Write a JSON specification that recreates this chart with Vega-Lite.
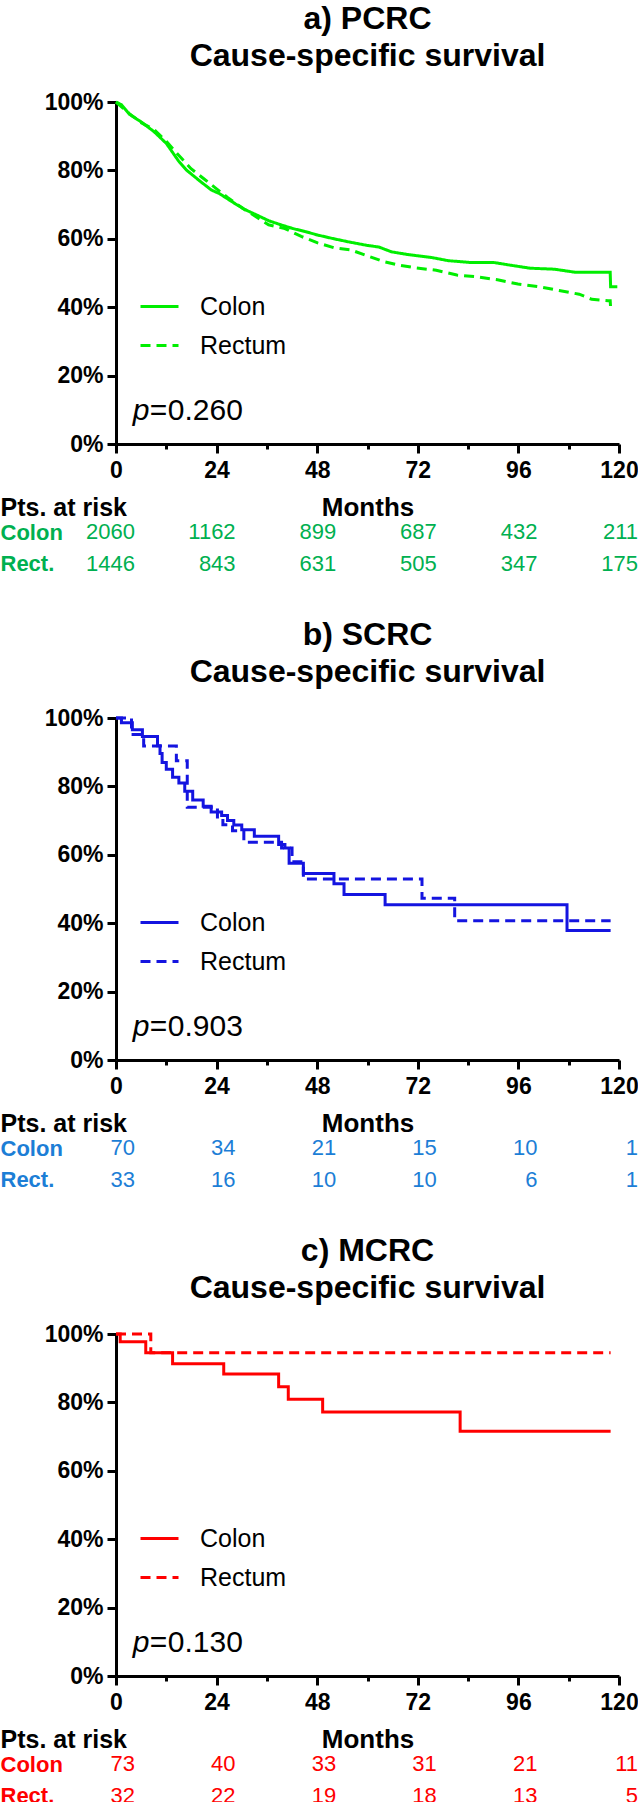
{
  "$schema": "https://vega.github.io/schema/vega-lite/v6.json",
  "padding": {"left": 0, "right": 0, "top": 3, "bottom": 0},
  "spacing": 43,
  "resolve": {"scale": {"strokeDash": "independent"}, "legend": {"strokeDash": "independent"}},
  "config": {
    "font": "Liberation Sans",
    "view": {"stroke": null},
    "axis": {"grid": false, "domainColor": "black", "domainWidth": 3, "tickColor": "black", "tickWidth": 3, "labelColor": "black", "labelFont": "Liberation Sans", "labelFontWeight": "bold", "labelFontSize": 23, "titleFont": "Liberation Sans", "titleFontWeight": "bold", "titleColor": "black"},
    "title": {"font": "Liberation Sans", "fontSize": 32, "fontWeight": "bold", "color": "black", "anchor": "middle", "lineHeight": 37, "offset": 18},
    "legend": {"orient": "none", "legendX": 23, "legendY": 184, "title": null, "labelFont": "Liberation Sans", "labelFontSize": 25, "labelFontWeight": "normal", "labelColor": "black", "symbolType": "stroke", "symbolSize": 1444, "symbolStrokeWidth": 3, "labelOffset": 20, "rowPadding": 5, "padding": 0}
  },
  "datasets": {
    "survA": [
      {"group": "Colon", "month": 0, "surv": 1.0}, {"group": "Colon", "month": 1.3, "surv": 0.992}, {"group": "Colon", "month": 3.2, "surv": 0.964}, {"group": "Colon", "month": 6.1, "surv": 0.941}, {"group": "Colon", "month": 9.1, "surv": 0.913}, {"group": "Colon", "month": 12.0, "surv": 0.879}, {"group": "Colon", "month": 14.9, "surv": 0.828}, {"group": "Colon", "month": 16.9, "surv": 0.8}, {"group": "Colon", "month": 19.8, "surv": 0.771}, {"group": "Colon", "month": 22.7, "surv": 0.743}, {"group": "Colon", "month": 24.7, "surv": 0.732}, {"group": "Colon", "month": 27.6, "surv": 0.709}, {"group": "Colon", "month": 30.5, "surv": 0.687}, {"group": "Colon", "month": 33.5, "surv": 0.67}, {"group": "Colon", "month": 36.4, "surv": 0.653}, {"group": "Colon", "month": 39.3, "surv": 0.641}, {"group": "Colon", "month": 42.2, "surv": 0.63}, {"group": "Colon", "month": 45.2, "surv": 0.621}, {"group": "Colon", "month": 48.1, "surv": 0.611}, {"group": "Colon", "month": 52.0, "surv": 0.6}, {"group": "Colon", "month": 55.9, "surv": 0.59}, {"group": "Colon", "month": 59.8, "surv": 0.581}, {"group": "Colon", "month": 62.7, "surv": 0.576}, {"group": "Colon", "month": 65.7, "surv": 0.562}, {"group": "Colon", "month": 69.6, "surv": 0.554}, {"group": "Colon", "month": 75.4, "surv": 0.545}, {"group": "Colon", "month": 79.3, "surv": 0.536}, {"group": "Colon", "month": 84.2, "surv": 0.531}, {"group": "Colon", "month": 90.0, "surv": 0.531}, {"group": "Colon", "month": 94.0, "surv": 0.523}, {"group": "Colon", "month": 98.8, "surv": 0.514}, {"group": "Colon", "month": 104.7, "surv": 0.511}, {"group": "Colon", "month": 109.6, "surv": 0.502}, {"group": "Colon", "month": 117.9, "surv": 0.502}, {"group": "Colon", "month": 118.0, "surv": 0.46}, {"group": "Colon", "month": 119.6, "surv": 0.46},
      {"group": "Rectum", "month": 0, "surv": 1.0}, {"group": "Rectum", "month": 3.2, "surv": 0.966}, {"group": "Rectum", "month": 6.1, "surv": 0.939}, {"group": "Rectum", "month": 9.1, "surv": 0.919}, {"group": "Rectum", "month": 12.0, "surv": 0.885}, {"group": "Rectum", "month": 14.9, "surv": 0.845}, {"group": "Rectum", "month": 17.9, "surv": 0.805}, {"group": "Rectum", "month": 20.8, "surv": 0.777}, {"group": "Rectum", "month": 23.7, "surv": 0.749}, {"group": "Rectum", "month": 26.6, "surv": 0.721}, {"group": "Rectum", "month": 30.5, "surv": 0.687}, {"group": "Rectum", "month": 33.5, "surv": 0.664}, {"group": "Rectum", "month": 36.4, "surv": 0.641}, {"group": "Rectum", "month": 40.3, "surv": 0.63}, {"group": "Rectum", "month": 44.2, "surv": 0.607}, {"group": "Rectum", "month": 48.1, "surv": 0.588}, {"group": "Rectum", "month": 52.0, "surv": 0.574}, {"group": "Rectum", "month": 55.9, "surv": 0.568}, {"group": "Rectum", "month": 59.8, "surv": 0.551}, {"group": "Rectum", "month": 63.7, "surv": 0.534}, {"group": "Rectum", "month": 67.6, "surv": 0.523}, {"group": "Rectum", "month": 71.5, "surv": 0.515}, {"group": "Rectum", "month": 76.4, "surv": 0.508}, {"group": "Rectum", "month": 81.3, "surv": 0.494}, {"group": "Rectum", "month": 86.1, "surv": 0.489}, {"group": "Rectum", "month": 91.0, "surv": 0.48}, {"group": "Rectum", "month": 95.9, "surv": 0.468}, {"group": "Rectum", "month": 100.8, "surv": 0.46}, {"group": "Rectum", "month": 105.7, "surv": 0.449}, {"group": "Rectum", "month": 110.5, "surv": 0.438}, {"group": "Rectum", "month": 113.5, "surv": 0.423}, {"group": "Rectum", "month": 117.4, "surv": 0.419}, {"group": "Rectum", "month": 117.9, "surv": 0.419}, {"group": "Rectum", "month": 118.0, "surv": 0.398}
    ],
    "survB": [
      {"group": "Colon", "month": 0, "surv": 1.0}, {"group": "Colon", "month": 1.3, "surv": 0.986}, {"group": "Colon", "month": 3.9, "surv": 0.966}, {"group": "Colon", "month": 6.3, "surv": 0.946}, {"group": "Colon", "month": 9.9, "surv": 0.919}, {"group": "Colon", "month": 10.5, "surv": 0.896}, {"group": "Colon", "month": 11.0, "surv": 0.87}, {"group": "Colon", "month": 12.0, "surv": 0.85}, {"group": "Colon", "month": 13.5, "surv": 0.827}, {"group": "Colon", "month": 15.0, "surv": 0.81}, {"group": "Colon", "month": 16.4, "surv": 0.786}, {"group": "Colon", "month": 18.3, "surv": 0.76}, {"group": "Colon", "month": 20.8, "surv": 0.742}, {"group": "Colon", "month": 22.7, "surv": 0.725}, {"group": "Colon", "month": 25.2, "surv": 0.715}, {"group": "Colon", "month": 26.6, "surv": 0.7}, {"group": "Colon", "month": 28.1, "surv": 0.687}, {"group": "Colon", "month": 30.0, "surv": 0.673}, {"group": "Colon", "month": 33.0, "surv": 0.654}, {"group": "Colon", "month": 38.8, "surv": 0.63}, {"group": "Colon", "month": 40.3, "surv": 0.62}, {"group": "Colon", "month": 41.3, "surv": 0.575}, {"group": "Colon", "month": 44.7, "surv": 0.545}, {"group": "Colon", "month": 52.0, "surv": 0.515}, {"group": "Colon", "month": 54.4, "surv": 0.484}, {"group": "Colon", "month": 64.2, "surv": 0.454}, {"group": "Colon", "month": 107.6, "surv": 0.379}, {"group": "Colon", "month": 118.0, "surv": 0.379},
      {"group": "Rectum", "month": 0, "surv": 1.0}, {"group": "Rectum", "month": 3.7, "surv": 0.952}, {"group": "Rectum", "month": 6.6, "surv": 0.918}, {"group": "Rectum", "month": 14.4, "surv": 0.875}, {"group": "Rectum", "month": 17.0, "surv": 0.739}, {"group": "Rectum", "month": 24.2, "surv": 0.7}, {"group": "Rectum", "month": 25.5, "surv": 0.688}, {"group": "Rectum", "month": 27.8, "surv": 0.67}, {"group": "Rectum", "month": 30.5, "surv": 0.637}, {"group": "Rectum", "month": 39.5, "surv": 0.62}, {"group": "Rectum", "month": 42.0, "surv": 0.58}, {"group": "Rectum", "month": 44.7, "surv": 0.529}, {"group": "Rectum", "month": 73.0, "surv": 0.473}, {"group": "Rectum", "month": 80.8, "surv": 0.407}, {"group": "Rectum", "month": 118.0, "surv": 0.407}
    ],
    "survC": [
      {"group": "Colon", "month": 0, "surv": 1.0}, {"group": "Colon", "month": 1.0, "surv": 0.977}, {"group": "Colon", "month": 7.1, "surv": 0.945}, {"group": "Colon", "month": 13.5, "surv": 0.913}, {"group": "Colon", "month": 25.7, "surv": 0.883}, {"group": "Colon", "month": 38.8, "surv": 0.846}, {"group": "Colon", "month": 41.1, "surv": 0.809}, {"group": "Colon", "month": 49.3, "surv": 0.772}, {"group": "Colon", "month": 82.1, "surv": 0.716}, {"group": "Colon", "month": 118.0, "surv": 0.716},
      {"group": "Rectum", "month": 0, "surv": 1.0}, {"group": "Rectum", "month": 8.3, "surv": 0.945}, {"group": "Rectum", "month": 118.0, "surv": 0.945}
    ],
    "riskA": [
      {"row": "Colon", "month": 0, "n": 2060}, {"row": "Colon", "month": 24, "n": 1162}, {"row": "Colon", "month": 48, "n": 899}, {"row": "Colon", "month": 72, "n": 687}, {"row": "Colon", "month": 96, "n": 432}, {"row": "Colon", "month": 120, "n": 211},
      {"row": "Rect.", "month": 0, "n": 1446}, {"row": "Rect.", "month": 24, "n": 843}, {"row": "Rect.", "month": 48, "n": 631}, {"row": "Rect.", "month": 72, "n": 505}, {"row": "Rect.", "month": 96, "n": 347}, {"row": "Rect.", "month": 120, "n": 175}
    ],
    "riskB": [
      {"row": "Colon", "month": 0, "n": 70}, {"row": "Colon", "month": 24, "n": 34}, {"row": "Colon", "month": 48, "n": 21}, {"row": "Colon", "month": 72, "n": 15}, {"row": "Colon", "month": 96, "n": 10}, {"row": "Colon", "month": 120, "n": 1},
      {"row": "Rect.", "month": 0, "n": 33}, {"row": "Rect.", "month": 24, "n": 16}, {"row": "Rect.", "month": 48, "n": 10}, {"row": "Rect.", "month": 72, "n": 10}, {"row": "Rect.", "month": 96, "n": 6}, {"row": "Rect.", "month": 120, "n": 1}
    ],
    "riskC": [
      {"row": "Colon", "month": 0, "n": 73}, {"row": "Colon", "month": 24, "n": 40}, {"row": "Colon", "month": 48, "n": 33}, {"row": "Colon", "month": 72, "n": 31}, {"row": "Colon", "month": 96, "n": 21}, {"row": "Colon", "month": 120, "n": 11},
      {"row": "Rect.", "month": 0, "n": 32}, {"row": "Rect.", "month": 24, "n": 22}, {"row": "Rect.", "month": 48, "n": 19}, {"row": "Rect.", "month": 72, "n": 18}, {"row": "Rect.", "month": 96, "n": 13}, {"row": "Rect.", "month": 120, "n": 5}
    ],
    "pA": [{"p": 0.26}],
    "pB": [{"p": 0.903}],
    "pC": [{"p": 0.13}]
  },
  "vconcat": [
    {
      "spacing": 0,
      "vconcat": [
        {
          "title": {"text": ["a) PCRC", "Cause-specific survival"]},
          "width": 503, "height": 342,
          "layer": [
            {
              "data": {"name": "survA"},
              "mark": {"type": "line", "interpolate": "linear", "strokeWidth": 3, "color": "#00EE00"},
              "encoding": {
                "x": {"field": "month", "type": "quantitative", "scale": {"domain": [0, 120], "nice": false, "zero": false},
                  "axis": {"values": [0, 12, 24, 36, 48, 60, 72, 84, 96, 108, 120], "labelExpr": "datum.value % 24 == 0 ? datum.label : ''", "tickSize": {"condition": {"test": "datum.value % 24 != 0", "value": 5}, "value": 9}, "labelPadding": 6, "labelOverlap": false, "labelFlush": false, "title": "Months", "titleFontSize": 26, "titlePadding": 12}},
                "y": {"field": "surv", "type": "quantitative", "scale": {"domain": [0, 1], "nice": false},
                  "axis": {"values": [0, 0.1, 0.2, 0.3, 0.4, 0.5, 0.6, 0.7, 0.8, 0.9, 1], "format": ".0%", "labelExpr": "round(datum.value*10) % 2 == 1 ? '' : datum.label", "tickSize": {"condition": {"test": "round(datum.value*10) % 2 == 1", "value": 5}, "value": 9}, "labelPadding": 4, "labelOverlap": false, "labelFlush": false, "minExtent": 116, "maxExtent": 116, "title": "Pts. at risk", "titleAngle": 0, "titleAlign": "left", "titleBaseline": "alphabetic", "titleX": -116, "titleY": 413, "titleFontSize": 25}},
                "strokeDash": {"field": "group", "type": "nominal", "scale": {"domain": ["Colon", "Rectum"], "range": [[1, 0], [10, 6]]}, "legend": {"symbolStrokeColor": "#00EE00"}}
              }
            },
            {"data": {"name": "pA"}, "mark": {"type": "text", "text": "p", "fontStyle": "italic", "fontSize": 30, "align": "left", "baseline": "alphabetic"}, "encoding": {"x": {"datum": 4}, "y": {"datum": 0.07}}},
            {"data": {"name": "pA"}, "mark": {"type": "text", "text": "=", "fontSize": 30, "align": "left", "baseline": "alphabetic", "dx": 17}, "encoding": {"x": {"datum": 4}, "y": {"datum": 0.07}}},
            {"data": {"name": "pA"}, "mark": {"type": "text", "fontSize": 30, "align": "left", "baseline": "alphabetic", "dx": 35}, "encoding": {"x": {"datum": 4}, "y": {"datum": 0.07}, "text": {"field": "p", "type": "quantitative", "format": ".3f"}}}
          ]
        },
        {
          "width": 503, "height": 56,
          "data": {"name": "riskA"},
          "mark": {"type": "text", "align": "right", "baseline": "middle", "dx": 19, "fontSize": 22, "color": "#00B050"},
          "encoding": {
            "x": {"field": "month", "type": "quantitative", "scale": {"domain": [0, 120], "nice": false}, "axis": null},
            "y": {"field": "row", "type": "nominal", "sort": ["Colon", "Rect."], "scale": {"padding": 0.4}, "axis": {"title": null, "labelAlign": "left", "labelPadding": 116, "tickSize": 0, "ticks": false, "domain": false, "labelFontSize": 22, "labelFontWeight": "bold", "labelColor": "#00B050", "labelBaseline": "middle", "minExtent": 116, "maxExtent": 116}},
            "text": {"field": "n", "type": "quantitative"}
          }
        }
      ]
    },
    {
      "spacing": 0,
      "vconcat": [
        {
          "title": {"text": ["b) SCRC", "Cause-specific survival"]},
          "width": 503, "height": 342,
          "layer": [
            {
              "data": {"name": "survB"},
              "mark": {"type": "line", "interpolate": "step-after", "strokeWidth": 3, "color": "#1414E0"},
              "encoding": {
                "x": {"field": "month", "type": "quantitative", "scale": {"domain": [0, 120], "nice": false, "zero": false},
                  "axis": {"values": [0, 12, 24, 36, 48, 60, 72, 84, 96, 108, 120], "labelExpr": "datum.value % 24 == 0 ? datum.label : ''", "tickSize": {"condition": {"test": "datum.value % 24 != 0", "value": 5}, "value": 9}, "labelPadding": 6, "labelOverlap": false, "labelFlush": false, "title": "Months", "titleFontSize": 26, "titlePadding": 12}},
                "y": {"field": "surv", "type": "quantitative", "scale": {"domain": [0, 1], "nice": false},
                  "axis": {"values": [0, 0.1, 0.2, 0.3, 0.4, 0.5, 0.6, 0.7, 0.8, 0.9, 1], "format": ".0%", "labelExpr": "round(datum.value*10) % 2 == 1 ? '' : datum.label", "tickSize": {"condition": {"test": "round(datum.value*10) % 2 == 1", "value": 5}, "value": 9}, "labelPadding": 4, "labelOverlap": false, "labelFlush": false, "minExtent": 116, "maxExtent": 116, "title": "Pts. at risk", "titleAngle": 0, "titleAlign": "left", "titleBaseline": "alphabetic", "titleX": -116, "titleY": 413, "titleFontSize": 25}},
                "strokeDash": {"field": "group", "type": "nominal", "scale": {"domain": ["Colon", "Rectum"], "range": [[1, 0], [10, 6]]}, "legend": {"symbolStrokeColor": "#1414E0"}}
              }
            },
            {"data": {"name": "pB"}, "mark": {"type": "text", "text": "p", "fontStyle": "italic", "fontSize": 30, "align": "left", "baseline": "alphabetic"}, "encoding": {"x": {"datum": 4}, "y": {"datum": 0.07}}},
            {"data": {"name": "pB"}, "mark": {"type": "text", "text": "=", "fontSize": 30, "align": "left", "baseline": "alphabetic", "dx": 17}, "encoding": {"x": {"datum": 4}, "y": {"datum": 0.07}}},
            {"data": {"name": "pB"}, "mark": {"type": "text", "fontSize": 30, "align": "left", "baseline": "alphabetic", "dx": 35}, "encoding": {"x": {"datum": 4}, "y": {"datum": 0.07}, "text": {"field": "p", "type": "quantitative", "format": ".3f"}}}
          ]
        },
        {
          "width": 503, "height": 56,
          "data": {"name": "riskB"},
          "mark": {"type": "text", "align": "right", "baseline": "middle", "dx": 19, "fontSize": 22, "color": "#1C7ED6"},
          "encoding": {
            "x": {"field": "month", "type": "quantitative", "scale": {"domain": [0, 120], "nice": false}, "axis": null},
            "y": {"field": "row", "type": "nominal", "sort": ["Colon", "Rect."], "scale": {"padding": 0.4}, "axis": {"title": null, "labelAlign": "left", "labelPadding": 116, "tickSize": 0, "ticks": false, "domain": false, "labelFontSize": 22, "labelFontWeight": "bold", "labelColor": "#1C7ED6", "labelBaseline": "middle", "minExtent": 116, "maxExtent": 116}},
            "text": {"field": "n", "type": "quantitative"}
          }
        }
      ]
    },
    {
      "spacing": 0,
      "vconcat": [
        {
          "title": {"text": ["c) MCRC", "Cause-specific survival"]},
          "width": 503, "height": 342,
          "layer": [
            {
              "data": {"name": "survC"},
              "mark": {"type": "line", "interpolate": "step-after", "strokeWidth": 3, "color": "#FF0000"},
              "encoding": {
                "x": {"field": "month", "type": "quantitative", "scale": {"domain": [0, 120], "nice": false, "zero": false},
                  "axis": {"values": [0, 12, 24, 36, 48, 60, 72, 84, 96, 108, 120], "labelExpr": "datum.value % 24 == 0 ? datum.label : ''", "tickSize": {"condition": {"test": "datum.value % 24 != 0", "value": 5}, "value": 9}, "labelPadding": 6, "labelOverlap": false, "labelFlush": false, "title": "Months", "titleFontSize": 26, "titlePadding": 12}},
                "y": {"field": "surv", "type": "quantitative", "scale": {"domain": [0, 1], "nice": false},
                  "axis": {"values": [0, 0.1, 0.2, 0.3, 0.4, 0.5, 0.6, 0.7, 0.8, 0.9, 1], "format": ".0%", "labelExpr": "round(datum.value*10) % 2 == 1 ? '' : datum.label", "tickSize": {"condition": {"test": "round(datum.value*10) % 2 == 1", "value": 5}, "value": 9}, "labelPadding": 4, "labelOverlap": false, "labelFlush": false, "minExtent": 116, "maxExtent": 116, "title": "Pts. at risk", "titleAngle": 0, "titleAlign": "left", "titleBaseline": "alphabetic", "titleX": -116, "titleY": 413, "titleFontSize": 25}},
                "strokeDash": {"field": "group", "type": "nominal", "scale": {"domain": ["Colon", "Rectum"], "range": [[1, 0], [10, 6]]}, "legend": {"symbolStrokeColor": "#FF0000"}}
              }
            },
            {"data": {"name": "pC"}, "mark": {"type": "text", "text": "p", "fontStyle": "italic", "fontSize": 30, "align": "left", "baseline": "alphabetic"}, "encoding": {"x": {"datum": 4}, "y": {"datum": 0.07}}},
            {"data": {"name": "pC"}, "mark": {"type": "text", "text": "=", "fontSize": 30, "align": "left", "baseline": "alphabetic", "dx": 17}, "encoding": {"x": {"datum": 4}, "y": {"datum": 0.07}}},
            {"data": {"name": "pC"}, "mark": {"type": "text", "fontSize": 30, "align": "left", "baseline": "alphabetic", "dx": 35}, "encoding": {"x": {"datum": 4}, "y": {"datum": 0.07}, "text": {"field": "p", "type": "quantitative", "format": ".3f"}}}
          ]
        },
        {
          "width": 503, "height": 56,
          "data": {"name": "riskC"},
          "mark": {"type": "text", "align": "right", "baseline": "middle", "dx": 19, "fontSize": 22, "color": "#FF0000"},
          "encoding": {
            "x": {"field": "month", "type": "quantitative", "scale": {"domain": [0, 120], "nice": false}, "axis": null},
            "y": {"field": "row", "type": "nominal", "sort": ["Colon", "Rect."], "scale": {"padding": 0.4}, "axis": {"title": null, "labelAlign": "left", "labelPadding": 116, "tickSize": 0, "ticks": false, "domain": false, "labelFontSize": 22, "labelFontWeight": "bold", "labelColor": "#FF0000", "labelBaseline": "middle", "minExtent": 116, "maxExtent": 116}},
            "text": {"field": "n", "type": "quantitative"}
          }
        }
      ]
    }
  ]
}
